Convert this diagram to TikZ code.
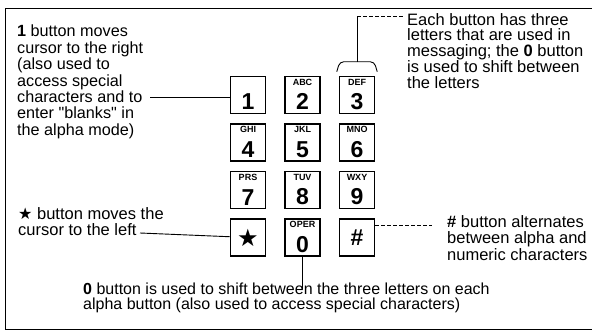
\documentclass[tikz,border=0pt]{standalone}
\usepackage{fontspec}
\setmainfont{Liberation Sans}
\newfontfamily\symfont{DejaVu Sans}
\usepackage{tikz}
\usetikzlibrary{positioning,calc}
\newcommand{\notesize}{\fontsize{16}{15.2}\selectfont}
\newcommand{\keytext}[2]{\vbox to 33pt{\vskip0.5pt
  \hbox to 31pt{\hss\fontsize{9}{9}\selectfont\bfseries #1\hss}\vss
  \hbox to 31pt{\hss\fontsize{23}{23}\selectfont\bfseries #2\hss}\vskip1.5pt}}
\tikzset{
  key/.style={draw, line width=1.5pt, minimum width=35pt, minimum height=37pt,
              inner sep=2pt},
  plainkey/.style={key, font=\fontsize{23}{23}\selectfont\bfseries},
  note/.style={anchor=north west, align=left, inner sep=0pt, font=\notesize},
  link/.style={line width=0.9pt},
  dashlink/.style={link, dash pattern=on 4pt off 2pt},
  frame/.style={line width=1pt}
}

\begin{document}
\begin{tikzpicture}[x=1pt, y=-1pt, node distance=9pt and 18pt]
        \useasboundingbox (0,0) rectangle (592,334);
        \draw[frame] (592,9) -- (5,9) -- (5,329) -- (592,329);
        % keypad
        \node[key] (k1) at (248,95) {\keytext{}{1}};
        \node[key, right=of k1] (k2) {\keytext{ABC}{2}};
        \node[key, right=of k2] (k3) {\keytext{DEF}{3}};
        \node[key, below=of k1] (k4) {\keytext{GHI}{4}};
        \node[key, right=of k4] (k5) {\keytext{JKL}{5}};
        \node[key, right=of k5] (k6) {\keytext{MNO}{6}};
        \node[key, below=of k4] (k7) {\keytext{PRS}{7}};
        \node[key, right=of k7] (k8) {\keytext{TUV}{8}};
        \node[key, right=of k8] (k9) {\keytext{WXY}{9}};
        \node[plainkey, below=of k7] (kstar) {\fontsize{24}{24}\symfont ★};
        \node[key, right=of kstar] (k0) {\keytext{OPER}{0}};
        \node[plainkey, right=of k0] (khash) {\#};
        % notes
        \node[note, font=\fontsize{16.2}{16.4}\selectfont] (oneNote) at (17,25)
          {\textbf{1} button moves\\cursor to the right\\(also used to\\access special\\characters and to\\enter \textquotedbl blanks\textquotedbl{} in\\the alpha mode)};
        \node[note, font=\fontsize{16.5}{15.8}\selectfont] (lettersNote) at (407,13)
          {Each button has three\\letters that are used in\\messaging; the \textbf{0} button\\is used to shift between\\the letters};
        \node[note, font=\fontsize{16.5}{16.5}\selectfont] (starNote) at (18,207)
          {{\fontsize{16}{16}\symfont ★} button moves the\\cursor to the left};
        \node[note, font=\fontsize{16.5}{16.5}\selectfont] (hashNote) at (447,215)
          {\textbf{\#} button alternates\\between alpha and\\numeric characters};
        \node[note] (zeroNote) at (83,283)
          {\textbf{0} button is used to shift between the three letters on each\\alpha button (also used to access special characters)};
        % connectors
        \coordinate (oneEnd) at (150,97);
        \draw[link] (oneEnd) -- (oneEnd -| k1.west);
        \draw[link, rounded corners=4pt] ($(k3.north west)+(-2,-4)$) -- ++(3,-10)
          -- ($(k3.north east)+(-1,-14)$) -- ($(k3.north east)+(2,-4)$);
        \coordinate (braceTop) at ($(k3.north)+(0,-14)$);
        \coordinate (threeEnd) at (404,16);
        \draw[link] (braceTop) -- (braceTop |- threeEnd) coordinate (threeCorner);
        \draw[dashlink] (threeCorner) -- (threeEnd);
        \coordinate (starEnd) at (140,233);
        \draw[link] (starEnd) -- (kstar);
        \coordinate (hashEnd) at (432,225);
        \draw[dashlink] (khash.east |- hashEnd) -- (hashEnd);
        \coordinate (zeroEnd) at ($(k0.south)+(0,32)$);
        \draw[link] (k0) -- (zeroEnd);
      \end{tikzpicture}
\end{document}
